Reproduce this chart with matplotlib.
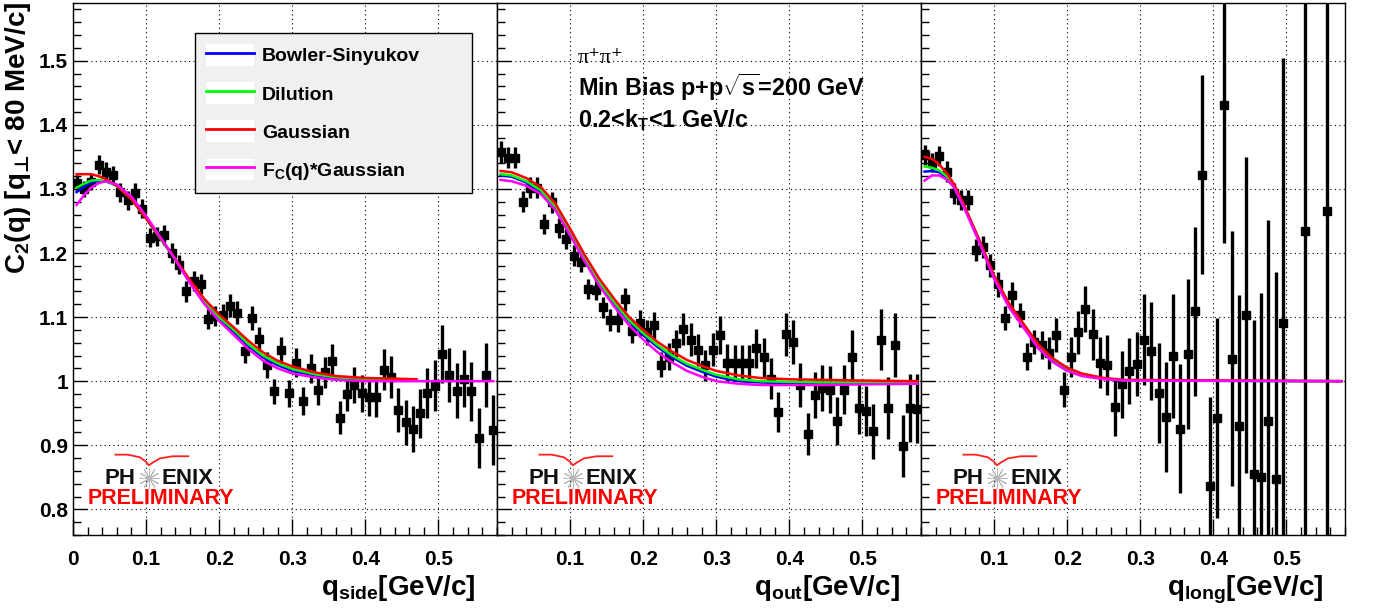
import matplotlib
matplotlib.use('Agg')
import matplotlib.pyplot as plt
from matplotlib.ticker import MultipleLocator
from matplotlib.patches import Rectangle
from matplotlib.lines import Line2D

# fontes tipo Helvetica bold (ROOT)
plt.rcParams['font.family'] = ['Liberation Sans', 'DejaVu Sans']
plt.rcParams['font.weight'] = 'bold'
plt.rcParams['mathtext.fontset'] = 'custom'
plt.rcParams['mathtext.rm'] = 'Liberation Sans:bold'
plt.rcParams['mathtext.it'] = 'Liberation Sans:bold'
plt.rcParams['mathtext.bf'] = 'Liberation Sans:bold'
plt.rcParams['mathtext.cal'] = 'DejaVu Sans:bold'  # so para o simbolo perp

# ---------------- dados ----------------
q_bins = [0.005, 0.015, 0.025, 0.035, 0.045, 0.055, 0.065, 0.075, 0.085, 0.095,
          0.105, 0.115, 0.125, 0.135, 0.145, 0.155, 0.165, 0.175, 0.185, 0.195,
          0.205, 0.215, 0.225, 0.235, 0.245, 0.255, 0.265, 0.275, 0.285, 0.295,
          0.305, 0.315, 0.325, 0.335, 0.345, 0.355, 0.365, 0.375, 0.385, 0.395,
          0.405, 0.415, 0.425, 0.435, 0.445, 0.455, 0.465, 0.475, 0.485, 0.495,
          0.505, 0.515, 0.525, 0.535, 0.545, 0.555, 0.565, 0.575]

c2_side = [1.309, 1.300, 1.311, 1.338, 1.327, 1.321, 1.295, 1.282, 1.294, 1.269,
           1.224, 1.226, 1.228, 1.200, 1.182, 1.140, 1.156, 1.152, 1.097, 1.102,
           1.104, 1.118, 1.107, 1.047, 1.099, 1.066, 1.025, 0.984, 1.048, 0.981,
           1.029, 0.969, 1.020, 0.986, 1.014, 1.032, 0.943, 0.980, 0.994, 0.981,
           0.975, 0.975, 1.018, 1.007, 0.955, 0.936, 0.926, 0.950, 0.982, 0.993,
           1.042, 1.010, 0.985, 1.004, 0.984, 0.911, 1.009, 0.924]
err_side = [0.012, 0.012, 0.013, 0.015, 0.015, 0.014, 0.015, 0.015, 0.015, 0.015,
            0.015, 0.015, 0.015, 0.015, 0.015, 0.016, 0.016, 0.016, 0.016, 0.016,
            0.017, 0.018, 0.018, 0.018, 0.019, 0.019, 0.020, 0.020, 0.021, 0.021,
            0.022, 0.022, 0.023, 0.023, 0.024, 0.026, 0.026, 0.027, 0.028, 0.029,
            0.030, 0.031, 0.032, 0.033, 0.034, 0.035, 0.036, 0.038, 0.039, 0.040,
            0.045, 0.042, 0.043, 0.045, 0.046, 0.047, 0.050, 0.055]

c2_out = [1.357, 1.349, 1.349, 1.280, 1.302, 1.302, 1.245, 1.279, 1.239, 1.222,
          1.196, 1.186, 1.144, 1.143, 1.115, 1.096, 1.095, 1.128, 1.078, 1.090,
          1.076, 1.087, 1.026, 1.038, 1.059, 1.082, 1.065, 1.048, 1.025, 1.049,
          1.072, 1.028, 1.028, 1.028, 1.028, 1.051, 1.037, 1.004, 0.952, 1.073,
          1.061, 0.994, 0.918, 0.978, 0.990, 0.987, 0.938, 0.987, 1.038, 0.958,
          0.953, 0.922, 1.065, 0.958, 1.057, 0.899, 0.958, 0.957]
err_out = [0.017, 0.016, 0.016, 0.016, 0.016, 0.016, 0.016, 0.016, 0.016, 0.015,
           0.016, 0.016, 0.016, 0.016, 0.016, 0.017, 0.018, 0.018, 0.018, 0.021,
           0.020, 0.021, 0.019, 0.021, 0.021, 0.025, 0.025, 0.025, 0.024, 0.026,
           0.030, 0.030, 0.028, 0.028, 0.028, 0.030, 0.031, 0.032, 0.031, 0.034,
           0.034, 0.034, 0.033, 0.036, 0.036, 0.036, 0.038, 0.038, 0.042, 0.040,
           0.039, 0.043, 0.047, 0.048, 0.050, 0.048, 0.053, 0.054]

# q_long: so os pontos visiveis
q_long = [0.005, 0.015, 0.025, 0.035, 0.045, 0.055, 0.065, 0.075, 0.085, 0.095,
          0.105, 0.115, 0.125, 0.135, 0.145, 0.155, 0.165, 0.175, 0.185, 0.195,
          0.205, 0.215, 0.225, 0.235, 0.245, 0.255, 0.265, 0.275, 0.285, 0.295,
          0.305, 0.315, 0.325, 0.335, 0.345, 0.355, 0.365, 0.375, 0.385, 0.395,
          0.405, 0.415, 0.425, 0.435, 0.445, 0.455, 0.465, 0.475, 0.485, 0.495,
          0.525, 0.555]
c2_long = [1.353, 1.341, 1.351, 1.327, 1.293, 1.283, 1.283, 1.205, 1.209, 1.181,
           1.151, 1.099, 1.134, 1.103, 1.038, 1.061, 1.056, 1.044, 1.072, 0.987,
           1.038, 1.076, 1.112, 1.073, 1.029, 1.025, 0.959, 0.995, 1.016, 1.027,
           1.065, 1.047, 0.982, 0.944, 1.039, 0.926, 1.042, 1.109, 1.322, 0.837,
           0.942, 1.431, 1.035, 0.930, 1.103, 0.855, 0.850, 0.938, 0.847, 1.091,
           1.234, 1.266]
err_long = [0.016, 0.015, 0.016, 0.016, 0.016, 0.016, 0.016, 0.017, 0.017, 0.018,
            0.019, 0.019, 0.020, 0.019, 0.021, 0.019, 0.022, 0.025, 0.026, 0.027,
            0.031, 0.034, 0.036, 0.040, 0.040, 0.047, 0.045, 0.052, 0.052, 0.050,
            0.071, 0.077, 0.078, 0.086, 0.097, 0.101, 0.117, 0.132, 0.155, 0.139,
            0.156, 0.216, 0.199, 0.205, 0.247, 0.240, 0.287, 0.314, 0.323, 0.414,
            0.650, 0.700]

# curvas de ajuste
fit_q_side = [0.005, 0.015, 0.025, 0.035, 0.045, 0.06, 0.08, 0.10, 0.12, 0.14, 0.16, 0.18,
              0.20, 0.22, 0.24, 0.26, 0.28, 0.30, 0.33, 0.36, 0.40, 0.44, 0.47, 0.575]
bs_side = [1.295, 1.303, 1.310, 1.312, 1.312, 1.305, 1.284, 1.254, 1.222, 1.190, 1.154, 1.122,
           1.098, 1.077, 1.055, 1.037, 1.025, 1.016, 1.009, 1.005, 1.002, 1.001]
dil_side = [1.302, 1.308, 1.313, 1.314, 1.312, 1.305, 1.284, 1.254, 1.222, 1.190, 1.155, 1.124,
            1.100, 1.080, 1.058, 1.040, 1.028, 1.019, 1.011, 1.006, 1.003, 1.002]
gau_side = [1.323, 1.323, 1.323, 1.320, 1.315, 1.305, 1.284, 1.254, 1.223, 1.191, 1.158, 1.128,
            1.104, 1.084, 1.063, 1.045, 1.032, 1.023, 1.014, 1.008, 1.005, 1.004, 1.003]
fc_side = [1.275, 1.290, 1.302, 1.309, 1.312, 1.307, 1.288, 1.258, 1.224, 1.190, 1.153, 1.120,
           1.094, 1.072, 1.050, 1.032, 1.020, 1.012, 1.006, 1.002, 1.000, 1.000, 1.000, 1.000]

fit_q_out = [0.005, 0.02, 0.04, 0.06, 0.08, 0.10, 0.12, 0.14, 0.16, 0.18, 0.20,
             0.22, 0.24, 0.26, 0.28, 0.30, 0.33, 0.36, 0.40, 0.45, 0.50, 0.575]
bs_out = [1.321, 1.319, 1.310, 1.296, 1.270, 1.231, 1.190, 1.153, 1.122, 1.094, 1.072,
          1.053, 1.037, 1.024, 1.015, 1.007, 1.000, 0.998, 0.997, 0.997, 0.997, 0.998]
dil_out = [1.323, 1.321, 1.312, 1.298, 1.272, 1.233, 1.192, 1.155, 1.124, 1.096, 1.075,
           1.056, 1.040, 1.027, 1.018, 1.010, 1.003, 1.000, 0.999, 0.998, 0.998, 0.999]
gau_out = [1.328, 1.326, 1.317, 1.303, 1.277, 1.238, 1.197, 1.160, 1.129, 1.101, 1.080,
           1.061, 1.046, 1.033, 1.024, 1.016, 1.009, 1.005, 1.003, 1.002, 1.001, 1.000]
fc_out = [1.314, 1.312, 1.305, 1.292, 1.267, 1.228, 1.187, 1.149, 1.117, 1.088, 1.065,
          1.045, 1.029, 1.016, 1.007, 1.000, 0.996, 0.994, 0.994, 0.994, 0.995, 0.996]

fit_q_long = [0.005, 0.015, 0.025, 0.035, 0.045, 0.06, 0.08, 0.10, 0.12, 0.14, 0.16,
              0.18, 0.20, 0.22, 0.25, 0.28, 0.575]
bs_long = [1.327, 1.328, 1.326, 1.318, 1.305, 1.270, 1.218, 1.163, 1.120, 1.088, 1.056,
           1.034, 1.019, 1.010, 1.004, 1.001, 1.000]
dil_long = [1.335, 1.333, 1.329, 1.320, 1.306, 1.271, 1.219, 1.164, 1.121, 1.089, 1.057,
            1.035, 1.020, 1.011, 1.004, 1.001, 1.000]
gau_long = [1.350, 1.347, 1.338, 1.325, 1.308, 1.272, 1.220, 1.165, 1.122, 1.090, 1.058,
            1.036, 1.021, 1.012, 1.005, 1.002, 1.000]
fc_long = [1.313, 1.321, 1.321, 1.315, 1.303, 1.268, 1.216, 1.160, 1.116, 1.084, 1.052,
           1.030, 1.016, 1.008, 1.003, 1.001, 1.000]

fit_names = ['Bowler-Sinyukov', 'Dilution', 'Gaussian', 'F$_C$(q)*Gaussian']
fit_colors = ['#0000ff', '#00ff00', '#ff0000', '#ff00ff']

paineis = [
    (q_bins, c2_side, err_side, fit_q_side, [bs_side, dil_side, gau_side, fc_side], 'q$_{side}$[GeV/c]'),
    (q_bins, c2_out, err_out, fit_q_out, [bs_out, dil_out, gau_out, fc_out], 'q$_{out}$[GeV/c]'),
    (q_long, c2_long, err_long, fit_q_long, [bs_long, dil_long, gau_long, fc_long], 'q$_{long}$[GeV/c]'),
]


def logo_phenix(ax):
    # logo "PHENIX PRELIMINARY" (decoracao)
    ax.text(0.147, 0.107, 'PH', transform=ax.transAxes, ha='right', va='center',
            fontsize=16, color='#111111')
    ax.text(0.210, 0.107, 'ENIX', transform=ax.transAxes, ha='left', va='center',
            fontsize=16, color='#111111')
    ax.plot([0.179], [0.107], marker=(12, 2, 0), ms=15, mew=0.7, color='#b8b8b8',
            transform=ax.transAxes, clip_on=False)
    ax.plot([0.100, 0.130, 0.158, 0.172, 0.179, 0.188, 0.205, 0.235, 0.272],
            [0.151, 0.151, 0.146, 0.138, 0.131, 0.136, 0.144, 0.148, 0.148],
            color='#ff2020', lw=1.3, transform=ax.transAxes)
    ax.text(0.208, 0.068, 'PRELIMINARY', transform=ax.transAxes, ha='center', va='center',
            fontsize=15.5, color='#ff0000')


fig, axes = plt.subplots(1, 3, sharey=True, figsize=(13.84, 6.11), dpi=100)
fig.subplots_adjust(left=0.0527, right=0.9718, bottom=0.1244, top=0.995, wspace=0)

for i, (ax, (qx, cy, ey, fq, fits, xlab)) in enumerate(zip(axes, paineis)):
    ax.errorbar(qx, cy, yerr=ey, xerr=0.004, fmt='s', color='black', ms=5.5,
                elinewidth=2.4, capsize=0, zorder=3)
    for vals, cor in zip(fits, fit_colors):
        ax.plot(fq[:len(vals)], vals, color=cor, lw=1.8, zorder=4)

    ax.set_xlim(0, 0.58)
    ax.set_ylim(0.76, 1.59)
    ax.set_axisbelow(True)
    ax.grid(True, which='major', color='black', linestyle=(0, (1, 3)), linewidth=0.8)

    if i == 0:
        ax.set_xticks([0, 0.1, 0.2, 0.3, 0.4, 0.5])
    else:
        ax.set_xticks([0.1, 0.2, 0.3, 0.4, 0.5])
    ax.set_xticklabels([f'{t:g}' for t in ax.get_xticks()])
    ax.xaxis.set_minor_locator(MultipleLocator(0.02))
    ax.set_yticks([0.8, 0.9, 1.0, 1.1, 1.2, 1.3, 1.4, 1.5])
    ax.set_yticklabels(['0.8', '0.9', '1', '1.1', '1.2', '1.3', '1.4', '1.5'])
    ax.yaxis.set_minor_locator(MultipleLocator(0.02))

    ax.tick_params(axis='both', which='both', direction='in', top=False, right=False,
                   labelsize=15, width=1)
    ax.tick_params(axis='x', which='major', length=11.5, pad=11)
    ax.tick_params(axis='x', which='minor', length=5.5)
    ax.tick_params(axis='y', which='major', length=10, pad=3.5)
    ax.tick_params(axis='y', which='minor', length=5.8)
    for s in ax.spines.values():
        s.set_linewidth(1)

    ax.text(0.95, -0.072, xlab, transform=ax.transAxes, ha='right', va='top', fontsize=20)
    logo_phenix(ax)

# legenda no primeiro painel
handles = [(Rectangle((0, 0), 1, 1, facecolor='white', edgecolor='none'),
            Line2D([], [], color=c, lw=2)) for c in fit_colors]
leg = axes[0].legend(handles, fit_names, loc='upper left', mode='expand',
                     bbox_to_anchor=(0.288, 0.0, 0.653, 0.943), borderaxespad=0,
                     fontsize=14, handlelength=2.5, handleheight=1.35, handletextpad=0.4,
                     labelspacing=0.84, borderpad=0.55, fancybox=False, framealpha=1,
                     facecolor='#f0f0f0', edgecolor='black')
leg.get_frame().set_linewidth(1)

# textos do painel do meio
ax2 = axes[1]
ax2.text(0.19, 0.887, 'π⁺π⁺', transform=ax2.transAxes, fontsize=16,
         family=['Liberation Serif', 'DejaVu Serif'], fontweight='normal', va='baseline')
ax2.text(0.19, 0.825, r'Min Bias p+p$\sqrt{s}$=200 GeV', transform=ax2.transAxes,
         fontsize=16.8, va='baseline')
ax2.text(0.19, 0.767, '0.2<k$_T$<1 GeV/c', transform=ax2.transAxes,
         fontsize=16.8, va='baseline')

fig.text(0.002, 0.997, 'C$_2$(q) [q$_{\\mathcal{\u22a5}}$< 80 MeV/c]', rotation=90,
         ha='left', va='top', fontsize=20)

fig.savefig('out.png', dpi=100)
